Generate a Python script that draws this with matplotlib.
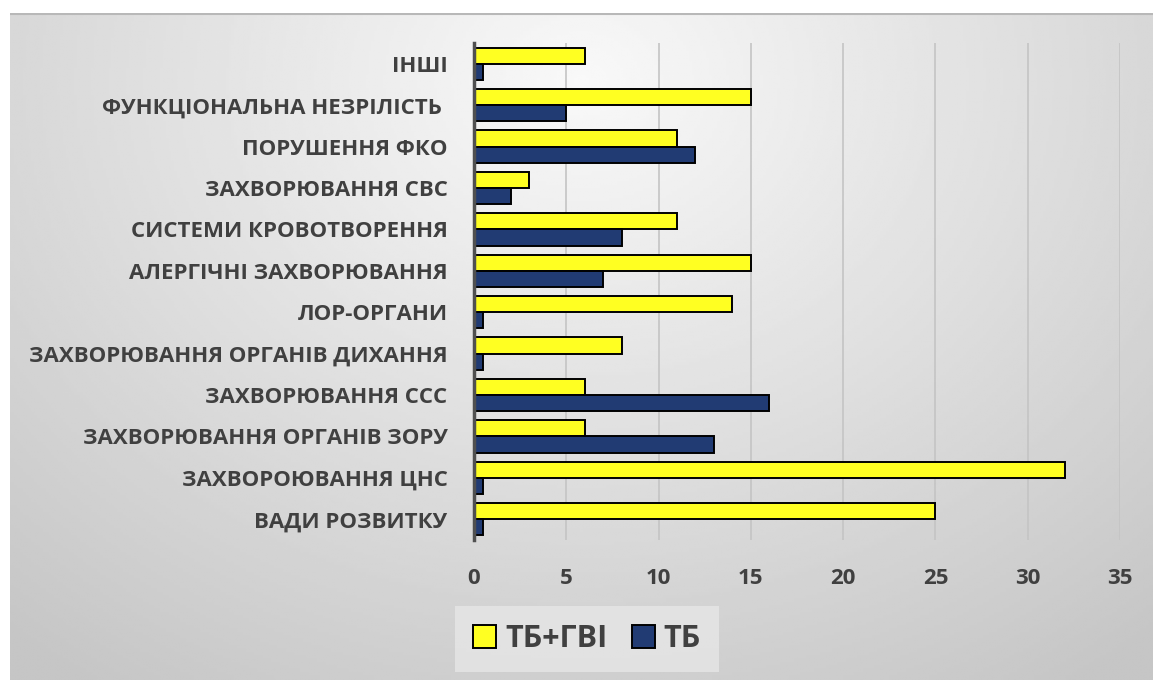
import numpy as np
import matplotlib
matplotlib.use('Agg')
import matplotlib.pyplot as plt

plt.rcParams['font.family'] = ['Open Sans', 'DejaVu Sans']

categories = ['ВАДИ РОЗВИТКУ', 'ЗАХВОРОЮВАННЯ ЦНС', 'ЗАХВОРЮВАННЯ ОРГАНІВ ЗОРУ',
              'ЗАХВОРЮВАННЯ ССС', 'ЗАХВОРЮВАННЯ ОРГАНІВ ДИХАННЯ', 'ЛОР-ОРГАНИ',
              'АЛЕРГІЧНІ ЗАХВОРЮВАННЯ', 'СИСТЕМИ КРОВОТВОРЕННЯ', 'ЗАХВОРЮВАННЯ СВС',
              'ПОРУШЕННЯ ФКО', 'ФУНКЦІОНАЛЬНА НЕЗРІЛІСТЬ ', 'ІНШІ']
tb_gvi = [25, 32, 6, 6, 8, 14, 15, 11, 3, 11, 15, 6]
tb = [0.5, 0.5, 13, 16, 0.5, 0.5, 7, 8, 2, 12, 5, 0.5]
xticks = [0, 5, 10, 15, 20, 25, 30, 35]

text_col = '#404040'
W, H = 1153, 680
fig = plt.figure(figsize=(W / 100, H / 100), dpi=100, facecolor='white')

# gradient frame in the background
bg = fig.add_axes([10 / W, 0, (W - 10) / W, (H - 13) / H])
yy, xx = np.mgrid[0:1:200j, 0:1:400j]
r = np.sqrt(((xx - 0.5) / 0.7) ** 2 + ((yy - 0.1) / 1.0) ** 2)
shade = 0.975 - 0.2 * np.clip(r, 0, 1.1) / 1.1
bg.imshow(shade, cmap='gray', vmin=0, vmax=1, aspect='auto', extent=[0, 1, 1, 0])
bg.set_xlim(0, 1)
bg.set_ylim(1, 0)
bg.axis('off')
bg.plot([0, 1], [0.002, 0.002], color='#b8b8b8', lw=1.5)

ax = fig.add_axes([474 / W, 140 / H, (1120 - 474) / W, (540 - 43) / H])
ax.set_facecolor('none')
y = np.arange(len(categories))
h = 0.39
ax.barh(y + h / 2, tb_gvi, height=h, color='#ffff22', edgecolor='black', lw=1.4,
        label='ТБ+ГВІ', zorder=3)
ax.barh(y - h / 2, tb, height=h, color='#213b73', edgecolor='black', lw=1.4,
        label='ТБ', zorder=3)

ax.set_xlim(0, 35)
ax.set_ylim(-0.5, len(categories) - 0.5)
ax.set_xticks(xticks)
ax.set_yticks(y)
ax.set_yticklabels(categories)
ax.tick_params(axis='y', length=0, pad=19, labelsize=16, labelcolor=text_col)
ax.tick_params(axis='x', length=0, pad=20, labelsize=16, labelcolor=text_col)
for lab in ax.get_xticklabels() + ax.get_yticklabels():
    lab.set_fontweight('bold')
ax.grid(axis='x', color='#c4c4c4', lw=1.2, zorder=0)
for s in ['top', 'right', 'bottom']:
    ax.spines[s].set_visible(False)
ax.spines['left'].set_color('#505050')
ax.spines['left'].set_linewidth(2.5)
ax.spines['left'].set_zorder(4)

leg = fig.legend(loc='center', bbox_to_anchor=(587 / W, 1 - 639 / H), ncol=2,
                 frameon=True, fancybox=False, handlelength=0.75, handleheight=0.75,
                 handletextpad=0.3, columnspacing=0.8, borderpad=0.6,
                 prop={'size': 22, 'weight': 'bold'})
leg.get_frame().set_facecolor('#e4e4e4')
leg.get_frame().set_edgecolor('none')
leg.get_frame().set_alpha(0.9)
for t in leg.get_texts():
    t.set_color(text_col)

fig.savefig('out.png', dpi=100, facecolor='white')
